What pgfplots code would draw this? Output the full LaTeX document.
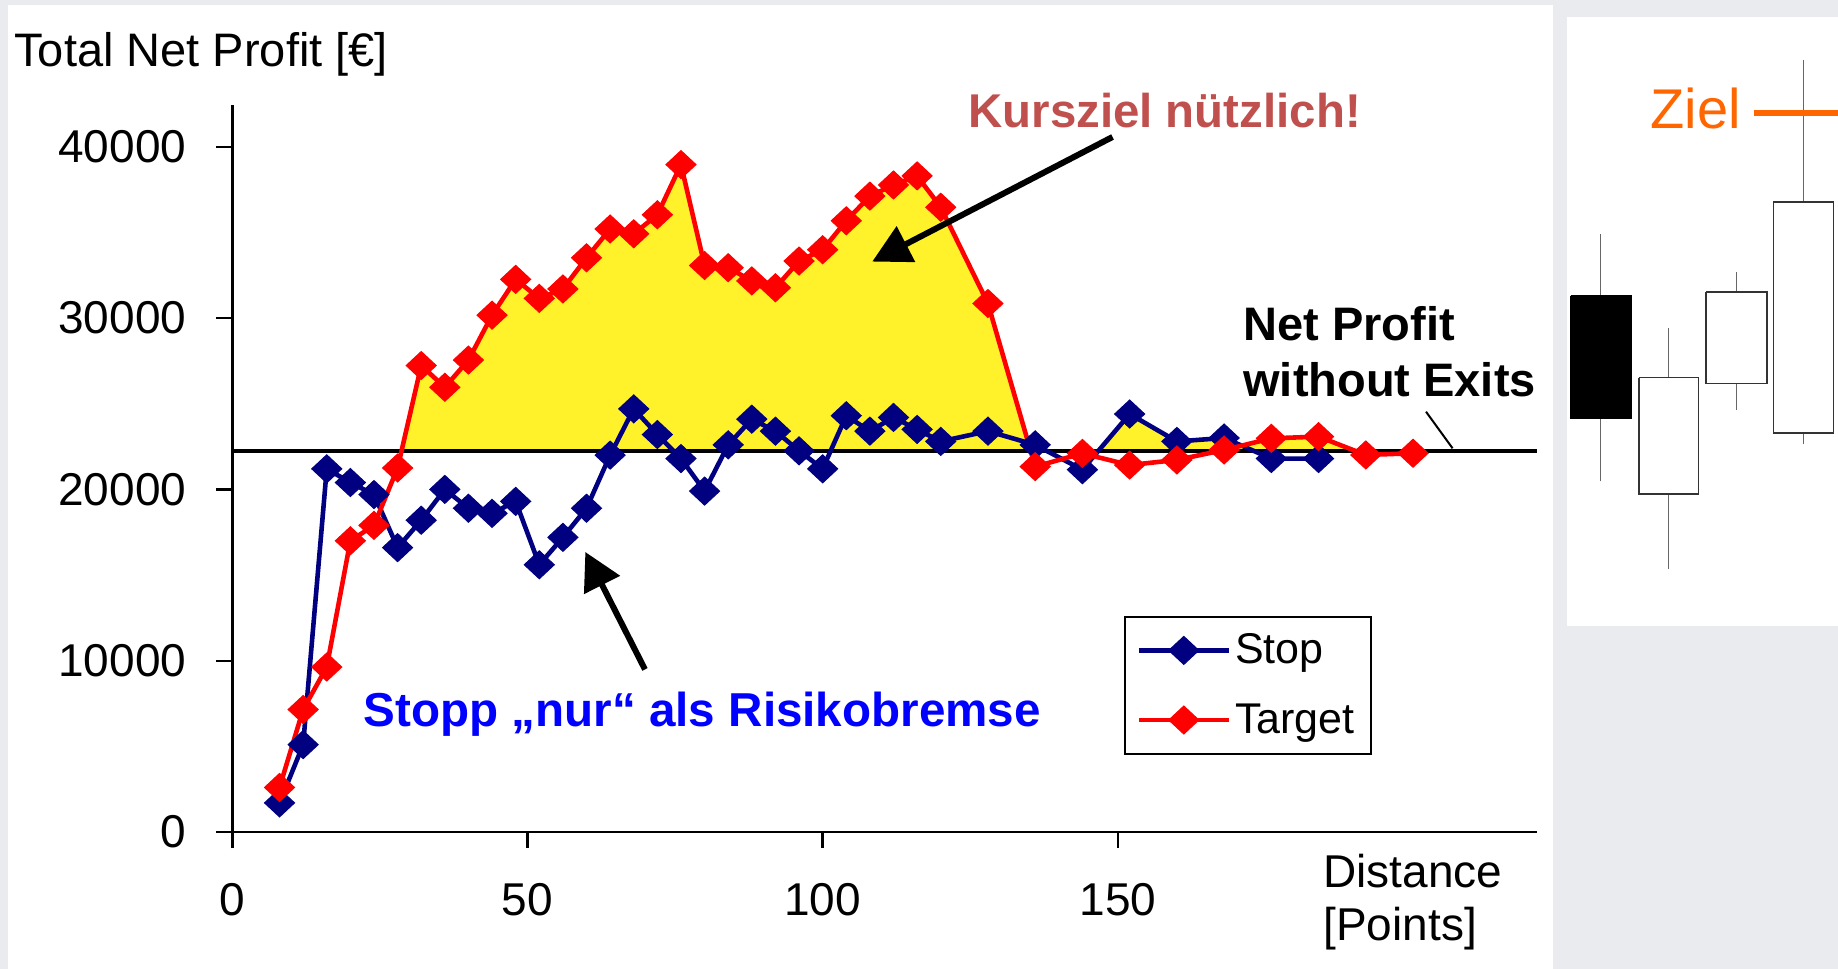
\documentclass[border=0pt]{standalone}
\usepackage{fontspec}
\setmainfont{Liberation Sans}
\usepackage{pgfplots}
\usepackage{pgfplotstable}
\pgfplotsset{compat=1.18}
\usetikzlibrary{arrows.meta}
\definecolor{bg}{HTML}{E9EBEE}
\definecolor{navy}{HTML}{000080}
\definecolor{fillyel}{HTML}{FFF22A}
\definecolor{kurs}{HTML}{C0504D}
\definecolor{zielor}{HTML}{FF6600}
\definecolor{stoppblue}{HTML}{0000FF}

\pgfplotstableread{
x y
8 1700
12 5100
16 21200
20 20400
24 19700
28 16600
32 18200
36 20000
40 18900
44 18600
48 19300
52 15600
56 17200
60 18900
64 22000
68 24700
72 23200
76 21800
80 19900
84 22600
88 24100
92 23400
96 22250
100 21200
104 24300
108 23400
112 24200
116 23500
120 22800
128 23400
136 22600
144 21150
152 24400
160 22800
168 23000
176 21800
184 21800
}\stopdata

\pgfplotstableread{
x y
8 2600
12 7150
16 9630
20 17000
24 17900
28 21250
32 27230
36 25960
40 27550
44 30170
48 32260
52 31150
56 31700
60 33520
64 35200
68 34920
72 36030
76 38960
80 33070
84 32940
88 32170
92 31770
96 33330
100 33990
104 35680
108 37120
112 37770
116 38300
120 36470
128 30850
136 21330
144 22100
152 21420
160 21720
168 22300
176 22980
184 23080
192 22010
200 22110
}\targetdata

\begin{document}
\begin{tikzpicture}
\path[use as bounding box] (0,0) rectangle (919pt,-484.5pt);
\fill[bg] (0,0) rectangle (919pt,-484.5pt);
\fill[white] (4pt,-2.5pt) rectangle (776.5pt,-484.5pt);
\fill[white] (783.35pt,-8.3pt) rectangle (919pt,-312.8pt);

\begin{axis}[
  at={(116.15pt,-416pt)}, anchor=south west,
  scale only axis, width=652.35pt, height=363.6pt,
  xmin=0, xmax=221, ymin=0, ymax=42450,
  axis x line*=bottom, axis y line*=left,
  axis line style={line width=1.3pt},
  xtick={0,50,100,150}, ytick={0,10000,20000,30000,40000},
  tick align=outside, major tick length=8pt,
  tick style={line width=1.2pt, black},
  ticklabel style={font=\fontsize{23}{27}\selectfont, inner sep=0pt},
  xticklabel style={anchor=north, yshift=-17.5pt},
  yticklabel style={anchor=east, xshift=-14.8pt},
  /pgf/number format/assume math mode=true,
  /pgf/number format/1000 sep={},
  scaled y ticks=false,
  clip=false,
  legend style={at={(axis cs:150.96,12627)}, anchor=north west, draw=black,
    line width=1pt, fill=white, font=\fontsize{21.5}{25}\selectfont,
    inner xsep=6pt, inner ysep=6.6pt, row sep=14.4pt},
  legend cell align=left,
  legend image code/.code={\draw[#1, mark repeat=2, mark phase=2] plot coordinates {(0pt,0pt) (22.5pt,0pt) (45pt,0pt)};},
]
\begin{scope}
\clip (axis cs:0,22250) rectangle (axis cs:221,42450);
\addplot[fill=fillyel, draw=none, forget plot] table {\targetdata} \closedcycle;
\addplot[fill=fillyel, draw=none, forget plot] table {\stopdata} \closedcycle;
\end{scope}
\addplot[black, line width=2.2pt, forget plot] coordinates {(0,22250) (221,22250)};
\addplot[navy, line width=2.3pt, mark=diamond*, mark size=7pt,
  mark options={xscale=1.43, line width=0.5pt, fill=navy, draw=navy}] table {\stopdata};
\addplot[red, line width=2.3pt, mark=diamond*, mark size=7pt,
  mark options={xscale=1.43, line width=0.5pt, fill=red, draw=red}] table {\targetdata};
\legend{Stop, Target}
\draw[line width=3pt, -{Triangle[length=19pt, width=19.5pt]}] (axis cs:149.1,40572) -- (axis cs:108.4,33298);
\draw[line width=3pt, -{Triangle[length=18.5pt, width=19.5pt]}] (axis cs:69.9,9492) -- (axis cs:59.8,16346);
\draw[line width=1pt] (axis cs:202.2,24535) -- (axis cs:206.7,22398);
\end{axis}

% candlestick sketch (pixel units of the reference)
\begin{axis}[at={(770pt,-325pt)}, anchor=south west, scale only axis,
  width=149pt, height=325pt, xmin=1540, xmax=1838, ymin=-650, ymax=0,
  hide axis, clip=false]
% wicks
\addplot[black!60, line width=0.6pt] coordinates {(1600.85,-481.3) (1600.85,-234.4)};
\addplot[black!60, line width=0.6pt] coordinates {(1668.5,-568.5) (1668.5,-327.8)};
\addplot[black!60, line width=0.6pt] coordinates {(1736.35,-410) (1736.35,-271.8)};
\addplot[black!60, line width=0.6pt] coordinates {(1803.3,-444) (1803.3,-60.2)};
% bodies
\addplot[draw=black, fill=black, line width=0.8pt] coordinates {(1570.7,-295.9) (1631,-295.9) (1631,-418.3) (1570.7,-418.3) (1570.7,-295.9)};
\addplot[draw=black!80, fill=white, line width=0.8pt] coordinates {(1638.7,-377.6) (1698.3,-377.6) (1698.3,-493.8) (1638.7,-493.8) (1638.7,-377.6)};
\addplot[draw=black!80, fill=white, line width=0.8pt] coordinates {(1706,-291.7) (1766.7,-291.7) (1766.7,-383.4) (1706,-383.4) (1706,-291.7)};
\addplot[draw=black!80, fill=white, line width=0.8pt] coordinates {(1773.3,-202) (1833.3,-202) (1833.3,-432.8) (1773.3,-432.8) (1773.3,-202)};
\end{axis}

\draw[zielor, line width=2.6pt] (877pt,-56.45pt) -- (919pt,-56.45pt);
\node[anchor=base west, inner sep=0pt, text=zielor, font=\fontsize{28}{32}\selectfont] at (825pt,-64.3pt) {Ziel};

\node[anchor=base west, inner sep=0pt, font=\fontsize{23.5}{27}\selectfont] at (7pt,-33.4pt) {Total Net Profit [€]};
\node[anchor=base west, inner sep=0pt, font=\fontsize{23}{27}\selectfont] at (661.5pt,-443.5pt) {Distance};
\node[anchor=base west, inner sep=0pt, font=\fontsize{23}{27}\selectfont] at (661.5pt,-470pt) {[Points]};
\node[anchor=base west, inner sep=0pt, text=kurs, font=\bfseries\fontsize{23.7}{27}\selectfont] at (484pt,-63.5pt) {Kursziel nützlich!};
\node[anchor=base west, inner sep=0pt, text=stoppblue, font=\bfseries\fontsize{23.8}{27}\selectfont] at (181.65pt,-363.4pt) {Stopp „nur“ als Risikobremse};
\node[anchor=base west, inner sep=0pt, font=\bfseries\fontsize{23.5}{27}\selectfont] at (621.5pt,-170pt) {Net Profit};
\node[anchor=base west, inner sep=0pt, font=\bfseries\fontsize{23.5}{27}\selectfont] at (621.5pt,-198.35pt) {without Exits};
\end{tikzpicture}
\end{document}
